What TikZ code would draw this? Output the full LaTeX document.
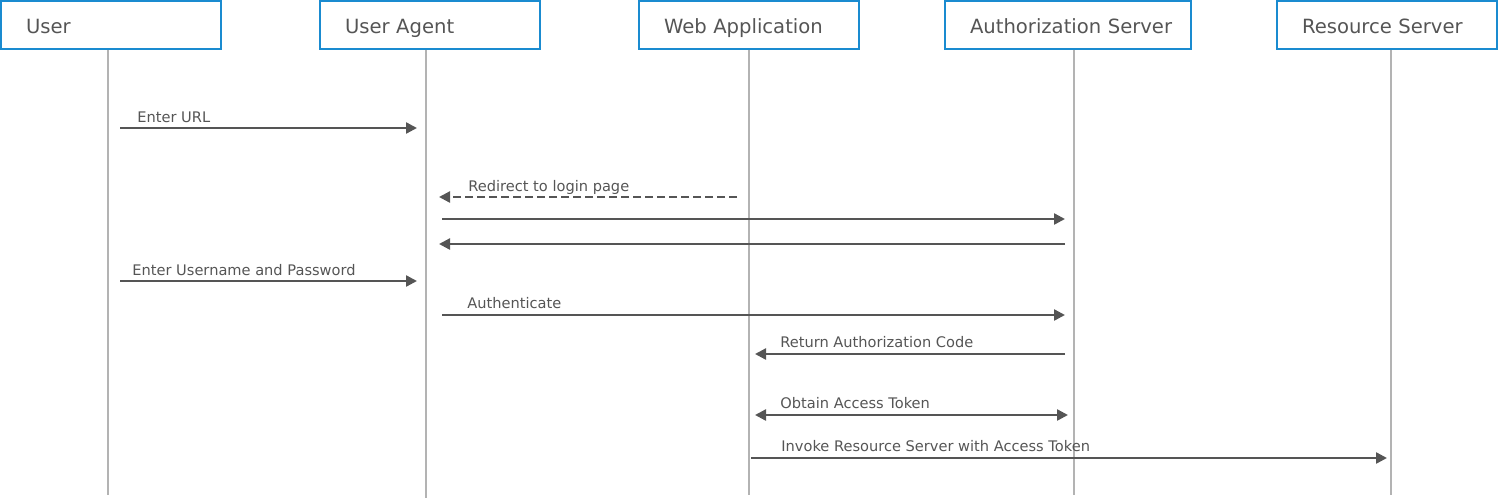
\documentclass[tikz,border=0pt]{standalone}
\usepackage{fontspec}
\setmainfont{DejaVu Sans}
\usepackage{tikz}
\usetikzlibrary{arrows.meta, positioning}

\definecolor{boxblue}{HTML}{1A8BD0}
\definecolor{lifegray}{HTML}{B3B3B3}
\definecolor{msggray}{HTML}{555555}

\begin{document}
\begin{tikzpicture}[x=0.5pt, y=-0.5pt,
    actor/.style={draw=boxblue, line width=1.4pt, rectangle, text=msggray, align=left,
        inner xsep=12.5pt, inner ysep=0pt, text width=85pt, minimum height=24pt,
        text height=9pt, text depth=1pt, font=\fontsize{9.8}{12}\selectfont},
    lifeline/.style={draw=lifegray, line width=1.3pt},
    msg/.style={draw=msggray, line width=1.2pt, -{Triangle[length=5.5pt,width=5.5pt]}},
    lbl/.style={anchor=base west, inner sep=0pt, text=msggray, font=\fontsize{7.3}{9}\selectfont}]
    \useasboundingbox (0,0) rectangle (1499,499);

    % participants
    \node[actor] (u) at (111,25) {User};
    \node[actor] (ua) at (430,25) {User Agent};
    \node[actor] (wa) at (749,25) {Web Application};
    \node[actor, text width=98pt] (as) at (1068,25) {\mbox{Authorization Server}};
    \node[actor] (rs) at (1387,25) {Resource Server};

    % lifelines
    \coordinate (u-l) at (108,50);   \coordinate (u-e) at (108,495);
    \coordinate (ua-l) at (426,50);  \coordinate (ua-e) at (426,498);
    \coordinate (wa-l) at (749,50);  \coordinate (wa-e) at (749,495);
    \coordinate (as-l) at (1074,50); \coordinate (as-e) at (1074,495);
    \coordinate (rs-l) at (1391,50); \coordinate (rs-e) at (1391,495);
    \draw[lifeline] (u-l) -- (u-e);
    \draw[lifeline] (ua-l) -- (ua-e);
    \draw[lifeline] (wa-l) -- (wa-e);
    \draw[lifeline] (as-l) -- (as-e);
    \draw[lifeline] (rs-l) -- (rs-e);

    % messages
    \draw[msg] ([xshift=6pt]u-l |- 0,128) -- ([xshift=-4.5pt]ua-l |- 0,128);
    \node[lbl] (t1) at (137,122) {Enter URL};

    \draw[msg, dash pattern=on 4pt off 2pt] ([xshift=-6pt]wa-l |- 0,197) -- ([xshift=6.5pt]ua-l |- 0,197);
    \node[lbl] (t2) at (468,191) {Redirect to login page};

    \draw[msg] ([xshift=8pt]ua-l |- 0,219) -- ([xshift=-4.5pt]as-l |- 0,219);
    \draw[msg] ([xshift=-4.5pt]as-l |- 0,244) -- ([xshift=6.5pt]ua-l |- 0,244);

    \draw[msg] ([xshift=6pt]u-l |- 0,281) -- ([xshift=-4.5pt]ua-l |- 0,281);
    \node[lbl] (t3) at (132,275) {Enter Username and Password};

    \draw[msg] ([xshift=8pt]ua-l |- 0,315) -- ([xshift=-4.5pt]as-l |- 0,315);
    \node[lbl] (t4) at (467,308) {Authenticate};

    \draw[msg] ([xshift=-4.5pt]as-l |- 0,354) -- ([xshift=3pt]wa-l |- 0,354);
    \node[lbl] (t5) at (780,347) {Return Authorization Code};

    \draw[msg, {Triangle[length=5.5pt,width=5.5pt]}-{Triangle[length=5.5pt,width=5.5pt]}] ([xshift=3pt]wa-l |- 0,415) -- ([xshift=-3pt]as-l |- 0,415);
    \node[lbl] (t6) at (780,408) {Obtain Access Token};

    \draw[msg] ([xshift=1pt]wa-l |- 0,458) -- ([xshift=-2pt]rs-l |- 0,458);
    \node[lbl] (t7) at (781,451) {Invoke Resource Server with Access Token};
\end{tikzpicture}
\end{document}
